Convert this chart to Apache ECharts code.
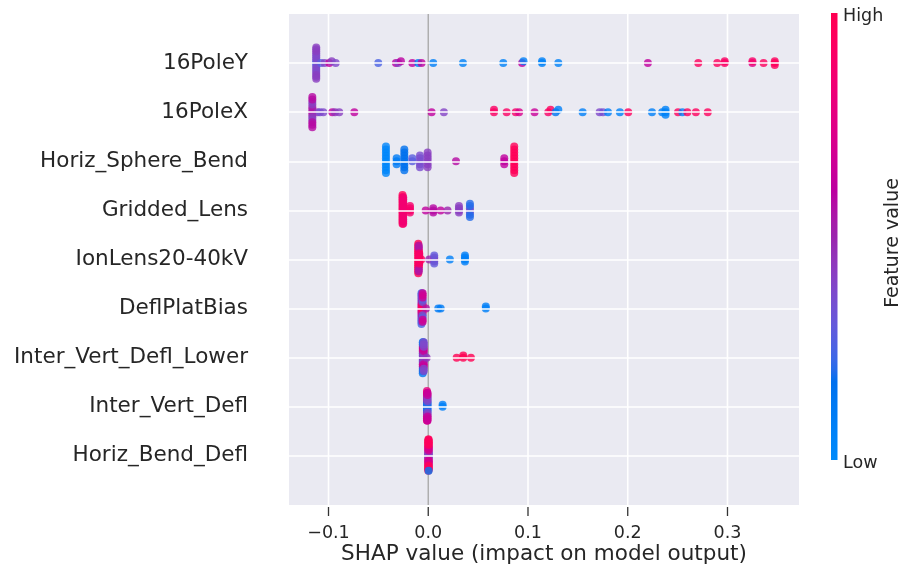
<!DOCTYPE html>
<html>
<head>
<meta charset="utf-8">
<script src="https://cdn.jsdelivr.net/npm/echarts@6/dist/echarts.min.js"></script>
<style>
  html, body { margin: 0; padding: 0; background: #ffffff; }
  #chart { width: 905px; height: 574px; }
</style>
</head>
<body>
<div id="chart"></div>
<script>
// Feature names, listed from the top row to the bottom row
const featureNames = [
  '16PoleY', '16PoleX', 'Horiz_Sphere_Bend', 'Gridded_Lens', 'IonLens20-40kV',
  'DeflPlatBias', 'Inter_Vert_Defl_Lower', 'Inter_Vert_Defl', 'Horiz_Bend_Defl'
];

// SHAP samples per feature: [shap value, normalised feature value, number of samples]
const pole16Y = [
  [-0.1123, 0.25, 3], [-0.1123, 0.38, 8], [-0.1123, 0.42, 6],
  [-0.1075, 0.28, 1], [-0.1040, 0.40, 1], [-0.0992, 0.62, 1], [-0.0968, 0.42, 1], [-0.0928, 0.38, 1],
  [-0.0501, 0.25, 1], [-0.0324, 0.60, 1], [-0.0301, 0.40, 1], [-0.0274, 0.60, 1], [-0.0160, 0.62, 1],
  [-0.0100, 0.12, 1], [-0.0067, 0.62, 1], [0.0050, 0.08, 1], [0.0348, 0.06, 1], [0.0752, 0.06, 1],
  [0.0941, 0.62, 1], [0.0955, 0.06, 1], [0.1141, 0.06, 2], [0.1304, 0.06, 1], [0.2202, 0.62, 1],
  [0.2707, 0.95, 1], [0.2897, 0.95, 1], [0.2972, 0.92, 2], [0.3250, 0.75, 1], [0.3250, 0.90, 1],
  [0.3362, 0.95, 1], [0.3474, 0.95, 3]
];
const pole16X = [
  [-0.1162, 0.55, 4], [-0.1162, 0.42, 4], [-0.1162, 0.58, 5],
  [-0.1110, 0.45, 1], [-0.1085, 0.35, 1], [-0.1052, 0.38, 1], [-0.0962, 0.62, 1], [-0.0935, 0.45, 1],
  [-0.0892, 0.42, 1], [-0.0741, 0.62, 1],
  [0.0034, 0.62, 1], [0.0157, 0.40, 1], [0.0659, 0.92, 2], [0.0786, 0.92, 1], [0.0877, 0.90, 1],
  [0.0911, 0.72, 1], [0.1066, 0.65, 1], [0.1203, 0.90, 1], [0.1226, 0.95, 1], [0.1277, 0.15, 1],
  [0.1304, 0.08, 1], [0.1548, 0.08, 1], [0.1718, 0.38, 1], [0.1752, 0.35, 1], [0.1802, 0.08, 1],
  [0.1921, 0.06, 1], [0.2005, 0.95, 1], [0.2243, 0.08, 1], [0.2345, 0.08, 1], [0.2379, 0.06, 3],
  [0.2504, 0.95, 1], [0.2548, 0.08, 1], [0.2598, 0.95, 1], [0.2683, 0.95, 1], [0.2802, 0.95, 1]
];
const horizSphereBend = [
  [-0.0424, 0.03, 10], [-0.0317, 0.10, 3], [-0.0240, 0.18, 8], [-0.0160, 0.28, 2],
  [-0.0083, 0.36, 5], [-0.0006, 0.42, 6], [0.0278, 0.58, 1], [0.0762, 0.62, 3], [0.0862, 0.97, 10]
];
const griddedLens = [
  [-0.0258, 0.98, 14], [-0.0251, 0.85, 13], [-0.0183, 0.88, 4], [-0.0026, 0.62, 1], [0.0050, 0.58, 3],
  [0.0124, 0.62, 1], [0.0194, 0.50, 1], [0.0308, 0.42, 4], [0.0418, 0.36, 3], [0.0418, 0.20, 4]
];
const ionLens = [
  [-0.0100, 1.00, 16], [-0.0095, 0.95, 10], [-0.0095, 0.55, 4], [-0.0090, 0.90, 6],
  [-0.0070, 0.95, 1], [0.0010, 0.50, 1], [0.0060, 0.42, 3], [0.0060, 0.30, 2],
  [0.0217, 0.08, 1], [0.0368, 0.08, 4]
];
const deflPlatBias = [
  [-0.0068, 0.70, 5], [-0.0068, 0.38, 5], [-0.0068, 0.25, 5],
  [-0.0062, 0.95, 4], [-0.0062, 0.55, 5], [-0.0062, 0.30, 5],
  [-0.0056, 0.90, 5], [-0.0056, 0.30, 4], [-0.0056, 0.68, 5],
  [-0.0023, 0.55, 1], [0.0100, 0.10, 1], [0.0125, 0.10, 1], [0.0577, 0.08, 2]
];
const interVertDeflLower = [
  [-0.0055, 0.30, 5], [-0.0055, 0.62, 5], [-0.0055, 0.15, 5],
  [-0.0050, 0.45, 5], [-0.0050, 0.70, 5], [-0.0050, 0.20, 4],
  [-0.0045, 0.42, 5], [-0.0045, 0.65, 4], [-0.0045, 0.38, 5],
  [-0.0016, 0.45, 1], [0.0285, 1.00, 1], [0.0351, 1.00, 2], [0.0428, 1.00, 1]
];
const interVertDefl = [
  [-0.0013, 0.30, 5], [-0.0013, 0.62, 5], [-0.0013, 0.80, 6],
  [-0.0010, 0.15, 5], [-0.0010, 0.45, 5], [-0.0010, 0.70, 5],
  [-0.0007, 0.20, 5], [-0.0007, 0.40, 5], [-0.0007, 0.65, 5],
  [0.0144, 0.08, 2]
];
const horizBendDefl = [
  [0.0001, 0.50, 6], [0.0001, 0.85, 8], [0.0001, 1.00, 10],
  [0.0004, 0.40, 6], [0.0004, 0.70, 8], [0.0004, 0.95, 8], [0.0004, 0.10, 1], [0.0004, 0.95, 1]
];

const featureSamples = [
  pole16Y, pole16X, horizSphereBend, griddedLens, ionLens,
  deflPlatBias, interVertDeflLower, interVertDefl, horizBendDefl
];

// Tick values of the SHAP axis
const xTicks = [-0.1, 0.0, 0.1, 0.2, 0.3];

// Blue -> red colour scale defined in LCh space (lightness dips in the middle)
function lchToRgb(L, C, h) {
  const a = C * Math.cos(h), b = C * Math.sin(h);
  const fy = (L + 16) / 116, fx = fy + a / 500, fz = fy - b / 200;
  const d = 6 / 29;
  const finv = t => (t > d ? t * t * t : 3 * d * d * (t - 4 / 29));
  const X = 0.95047 * finv(fx), Y = finv(fy), Z = 1.08883 * finv(fz);
  const lin = [
    3.2406 * X - 1.5372 * Y - 0.4986 * Z,
    -0.9689 * X + 1.8758 * Y + 0.0415 * Z,
    0.0557 * X - 0.2040 * Y + 1.0570 * Z
  ];
  const enc = c => {
    c = Math.min(1, Math.max(0, c));
    const s = c <= 0.0031308 ? 12.92 * c : 1.055 * Math.pow(c, 1 / 2.4) - 0.055;
    return Math.round(s * 255);
  };
  return 'rgb(' + lin.map(enc).join(',') + ')';
}
function redBlue(t) {
  t = Math.min(1, Math.max(0, t));
  const blue = [54, 70, 4.6588], red = [54, 90, 0.35470565 + 2 * Math.PI], lMid = 40;
  const L = t < 0.5 ? blue[0] + (lMid - blue[0]) * (t / 0.5) : lMid + (red[0] - lMid) * ((t - 0.5) / 0.5);
  return lchToRgb(L, blue[1] + (red[1] - blue[1]) * t, blue[2] + (red[2] - blue[2]) * t);
}
// gradient stops for the colour bar (top = high)
const barStops = [];
for (let i = 0; i <= 40; i++) barStops.push({ offset: i / 40, color: redBlue(1 - i / 40) });

// Beeswarm offsets: bin the values, then stack points within a bin alternately up and down
function swarmOffsets(xs, rowHeight) {
  const nbins = 100;
  const lo = Math.min(...xs), hi = Math.max(...xs);
  const quant = xs.map(x => Math.round(nbins * (x - lo) / (hi - lo + 1e-8)));
  const order = xs.map((_, i) => i).sort((a, b) => quant[a] - quant[b] || a - b);
  const ys = new Array(xs.length).fill(0);
  let layer = 0, last = -1;
  for (const i of order) {
    if (quant[i] !== last) layer = 0;
    ys[i] = Math.ceil(layer / 2) * ((layer % 2) * 2 - 1);
    layer += 1;
    last = quant[i];
  }
  const maxY = Math.max(...ys.map(y => y + 1));
  return ys.map(y => y * 0.9 * (rowHeight / maxY));
}

const nRows = featureNames.length;
const points = [];
featureSamples.forEach((clusters, idx) => {
  const row = nRows - 1 - idx;
  const samples = [];
  clusters.forEach(([x, fv, count]) => {
    for (let k = 0; k < count; k++) samples.push([x, fv]);
  });
  const offsets = swarmOffsets(samples.map(s => s[0]), 0.4);
  samples.forEach((s, i) => points.push({
    value: [s[0], row + offsets[i], s[1]],
    itemStyle: { color: redBlue(s[1]) }
  }));
});

const rowValues = featureNames.map((_, i) => i);
const FONT = 'DejaVu Sans';
const TEXT = '#262626';

const chart = echarts.init(document.getElementById('chart'));
chart.setOption({
  animation: false,
  grid: {
    left: 289, right: 106, top: 14, bottom: 69,
    show: true, backgroundColor: '#EAEAF2', borderWidth: 0
  },
  xAxis: {
    type: 'value',
    min: -0.1396,
    max: 0.3717,
    axisLine: { show: false, onZero: false },
    splitLine: { show: false },
    axisTick: { show: false },
    axisLabel: {
      customValues: xTicks,
      margin: 19,
      fontFamily: FONT, fontSize: 17.5, color: TEXT,
      formatter: v => (v < 0 ? '\u2212' + Math.abs(v).toFixed(1) : Math.abs(v).toFixed(1))
    }
  },
  yAxis: {
    type: 'value',
    min: -1,
    max: nRows,
    interval: 1,
    axisLine: { show: false, onZero: false },
    axisTick: { show: false },
    splitLine: { show: false },
    axisLabel: {
      margin: 41,
      fontFamily: FONT, fontSize: 21.5, color: TEXT,
      formatter: v => (v >= 0 && v < nRows ? featureNames[nRows - 1 - v] : '')
    }
  },
  series: [
    {
      // one white line per feature row
      type: 'scatter',
      data: [],
      z: 1,
      markLine: {
        symbol: 'none',
        label: { show: false },
        lineStyle: { color: '#ffffff', width: 1.6, type: 'solid' },
        data: rowValues.map(r => ({ yAxis: r }))
      }
    },
    {
      type: 'scatter',
      z: 3,
      symbolSize: 8,
      data: points
    }
  ]
});

// Vertical grid lines, the zero line and the tick marks, placed through the axis scale
const axisMarks = [];
xTicks.forEach(v => {
  const top = chart.convertToPixel({ gridIndex: 0 }, [v, nRows]);
  const bottom = chart.convertToPixel({ gridIndex: 0 }, [v, -1]);
  const zero = Math.abs(v) < 1e-9;
  axisMarks.push({
    type: 'line', z: 2, silent: true,
    shape: { x1: top[0], y1: top[1], x2: bottom[0], y2: bottom[1] },
    style: { stroke: zero ? '#aaaaaa' : '#ffffff', lineWidth: zero ? 1.4 : 1.6 }
  });
  axisMarks.push({
    type: 'line', z: 2, silent: true,
    shape: { x1: bottom[0], y1: bottom[1] + 2, x2: bottom[0], y2: bottom[1] + 11 },
    style: { stroke: '#333333', lineWidth: 1.3 }
  });
});
const plotLeft = chart.convertToPixel({ gridIndex: 0 }, [-0.1396, -1]);
const plotRight = chart.convertToPixel({ gridIndex: 0 }, [0.3717, -1]);

chart.setOption({
  graphic: [
    ...axisMarks,
    { type: 'text', x: (plotLeft[0] + plotRight[0]) / 2, y: 554, silent: true,
      style: { text: 'SHAP value (impact on model output)', fontFamily: FONT, fontSize: 21.5,
               fill: TEXT, align: 'center', verticalAlign: 'middle' } },
    { type: 'rect', left: 831, top: 13, silent: true,
      shape: { width: 6.5, height: 447 },
      style: { fill: new echarts.graphic.LinearGradient(0, 0, 0, 1, barStops) } },
    { type: 'text', left: 843, top: 7, silent: true,
      style: { text: 'High', fontFamily: FONT, fontSize: 17.5, fill: TEXT } },
    { type: 'text', left: 843, top: 454, silent: true,
      style: { text: 'Low', fontFamily: FONT, fontSize: 17.5, fill: TEXT } },
    { type: 'text', x: 893, y: 243, rotation: Math.PI / 2, silent: true,
      style: { text: 'Feature value', fontFamily: FONT, fontSize: 19, fill: TEXT,
               align: 'center', verticalAlign: 'middle' } }
  ]
});
</script>
</body>
</html>
